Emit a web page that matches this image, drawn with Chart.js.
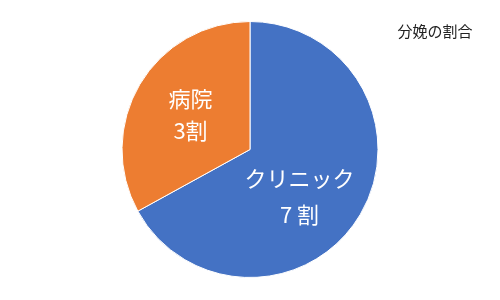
<!DOCTYPE html>
<html>
<head>
<meta charset="utf-8">
<script src="https://cdn.jsdelivr.net/npm/chart.js@4/dist/chart.umd.min.js"></script>
<style>
  html, body { margin: 0; padding: 0; background: #fff; }
  #wrap { width: 500px; height: 300px; position: relative; }
</style>
</head>
<body>
<div id="wrap"><canvas id="chart"></canvas></div>
<script>
const title = '分娩の割合';
const categories = ['クリニック', '病院'];
const shareLabels = ['7 割', '3割'];
const values = [67, 33];
const colors = ['#4472C4', '#ED7D31'];

const FONT = '"Noto Sans CJK JP", "Noto Sans", sans-serif';

// slice labels inside each arc, plus the small title in the corner
const labelPlugin = {
  id: 'sliceLabels',
  afterDatasetsDraw(chart) {
    const { ctx } = chart;
    const meta = chart.getDatasetMeta(0);
    ctx.save();
    ctx.fillStyle = '#fff';
    ctx.textAlign = 'center';
    ctx.textBaseline = 'middle';
    ctx.font = `22px ${FONT}`;
    meta.data.forEach((arc, i) => {
      const mid = (arc.startAngle + arc.endAngle) / 2;
      const r = arc.outerRadius * 0.54;
      const x = arc.x + Math.cos(mid) * r - (i === 0 ? 10 : 0);
      const y = arc.y + Math.sin(mid) * r + (i === 0 ? 12 : 0);
      const gap = i === 0 ? 18 : 16;
      ctx.fillText(categories[i], x, y - gap);
      ctx.fillText(shareLabels[i], x, y + gap);
    });
    ctx.fillStyle = '#222';
    ctx.font = `15px ${FONT}`;
    ctx.fillText(title, 435, 31);
    ctx.restore();
  }
};

new Chart(document.getElementById('chart'), {
  type: 'pie',
  data: {
    labels: categories,
    datasets: [{
      data: values,
      backgroundColor: colors,
      borderColor: '#fff',
      borderWidth: 1
    }]
  },
  options: {
    responsive: true,
    maintainAspectRatio: false,
    animation: false,
    layout: { padding: { top: 21, bottom: 22 } },
    plugins: {
      legend: { display: false },
      tooltip: { enabled: false }
    }
  },
  plugins: [labelPlugin]
});
</script>
</body>
</html>
